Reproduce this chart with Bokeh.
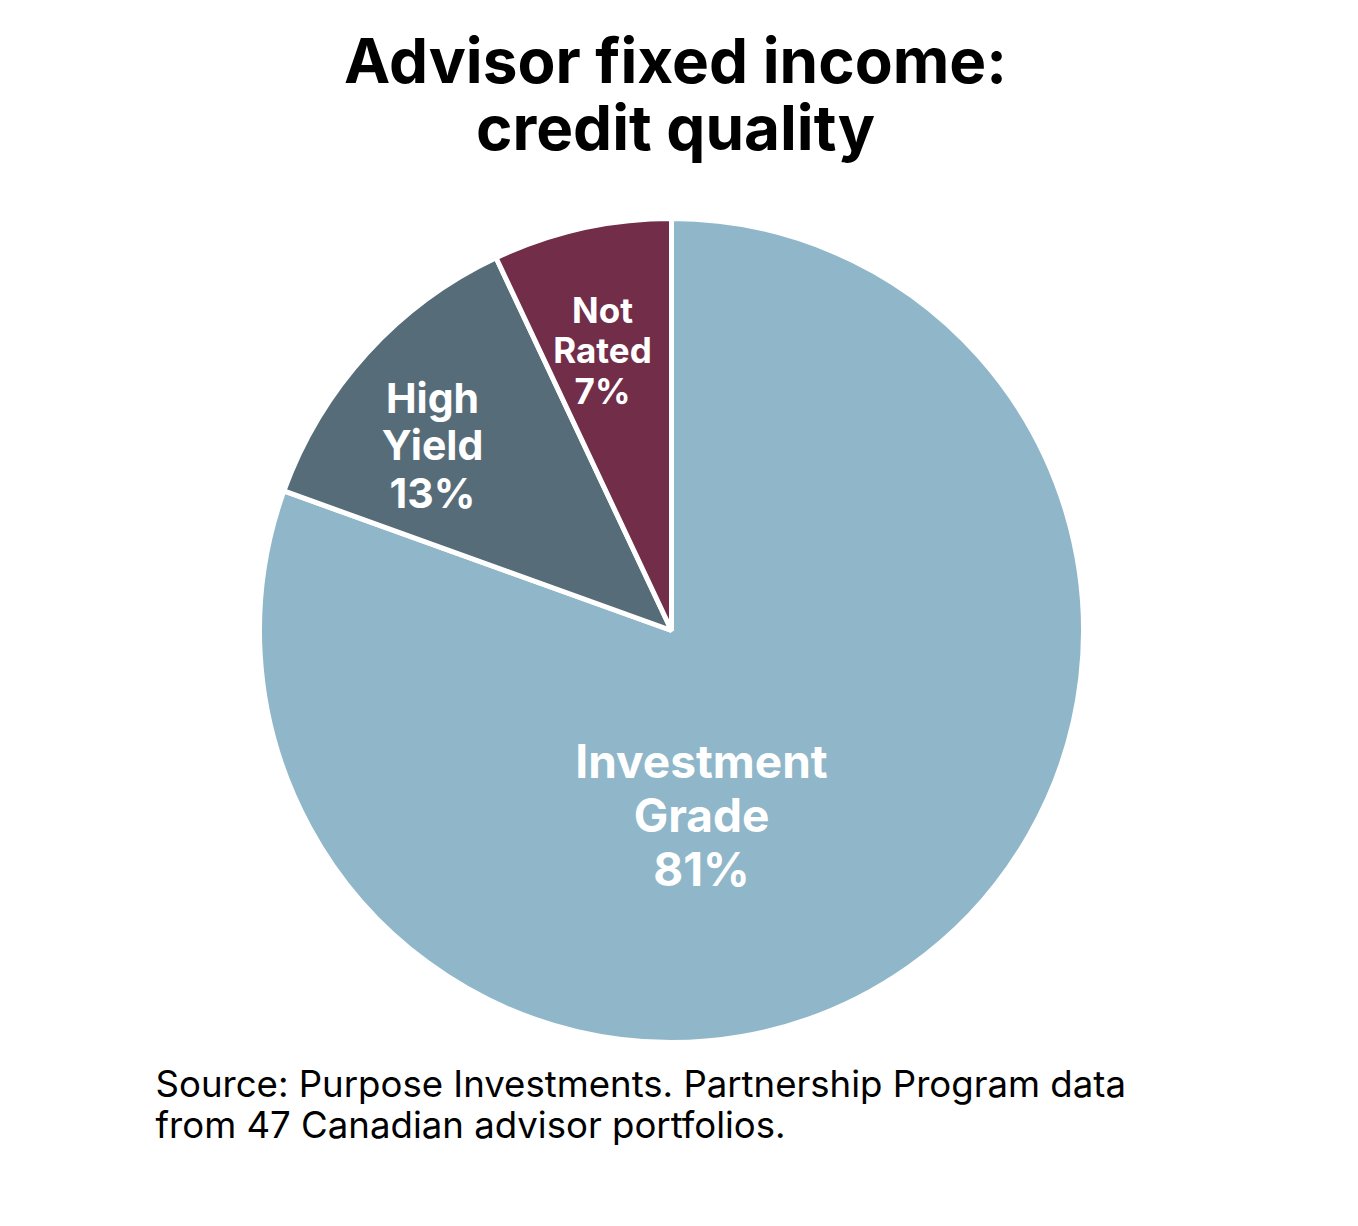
from math import pi

from bokeh.core.properties import value
from bokeh.embed import file_html
from bokeh.models import Range1d
from bokeh.plotting import figure
from bokeh.resources import INLINE

# Slice data (clockwise from 12 o'clock)
categories = ["Investment Grade", "High Yield", "Not Rated"]
shares = [80.5, 12.5, 7.0]
pct_labels = ["81%", "13%", "7%"]
label_lines = [["Investment", "Grade"], ["High", "Yield"], ["Not", "Rated"]]
colors = ["#8fb7c9", "#566d79", "#722d49"]

title_lines = ["Advisor fixed income:", "credit quality"]
source_lines = ["Source: Purpose Investments. Partnership Program data",
                "from 47 Canadian advisor portfolios."]

W, H = 1342, 1210
FONT = "Inter"


# screen pixel -> data coords (y grows upward)
def sy(y):
    return H - y


p = figure(width=W, height=H, output_backend="svg", toolbar_location=None,
           x_range=Range1d(0, W), y_range=Range1d(0, H),
           min_border=0)
p.axis.visible = False
p.grid.visible = False
p.outline_line_color = None
p.background_fill_color = "white"

# Pie
cx, cy, r = 671, sy(630), 412
total = sum(shares)
start = 0.0
for share, col in zip(shares, colors):
    end = start + share / total
    p.wedge(x=cx, y=cy, radius=r,
            start_angle=pi / 2 - 2 * pi * start,
            end_angle=pi / 2 - 2 * pi * end,
            direction="clock", fill_color=col,
            line_color="white", line_width=5)
    start = end

# Slice labels: (center x, first line middle, line step, font size)
label_layout = [(701, 760, 54, "46px"), (432, 397, 47.5, "41px"), (602, 309, 40.5, "35px")]
for lines, pct, (lx, ly, step, fs) in zip(label_lines, pct_labels, label_layout):
    rows = lines + [pct]
    p.text(x=[lx] * len(rows), y=[sy(ly + i * step) for i in range(len(rows))],
           text=rows, text_align="center", text_baseline="middle",
           text_font=value(FONT), text_font_style="bold",
           text_font_size=fs, text_color="white")

# Title
p.text(x=[675, 675], y=[sy(60), sy(127)], text=title_lines,
       text_align="center", text_baseline="middle",
       text_font=value(FONT), text_font_style="bold",
       text_font_size="62px", text_color="black")

# Source note
p.text(x=[155, 155], y=[sy(1083), sy(1124)], text=source_lines,
       text_align="left", text_baseline="middle",
       text_font=value(FONT), text_font_size="36.6px", text_color="black")

open("out.html", "w").write(file_html(p, INLINE))
